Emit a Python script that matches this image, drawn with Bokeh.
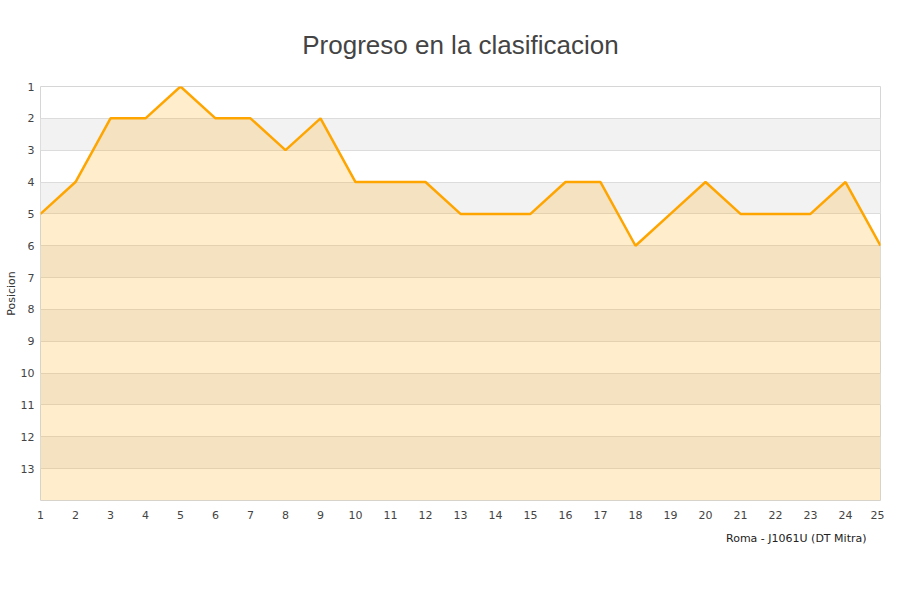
from bokeh.plotting import figure
from bokeh.models import Range1d, FixedTicker, ColumnDataSource, Title
from bokeh.embed import file_html
from bokeh.resources import INLINE

jornadas = list(range(1, 26))
posicion = [5, 4, 2, 2, 1, 2, 2, 3, 2, 4, 4, 4, 5, 5, 5, 4, 4, 6, 5, 4, 5, 5, 5, 4, 6]
y_ticks = list(range(1, 14))
x_ticks = list(range(1, 26))
fondo = 14
serie = "Roma - J1061U (DT Mitra)"
titulo = "Progreso en la clasificacion"
eje_y = "Posicion"

src = ColumnDataSource(dict(x=jornadas, y=posicion, base=[fondo] * len(jornadas)))

p = figure(width=884, height=584, output_backend="svg", toolbar_location=None,
           x_range=Range1d(1, 25), y_range=Range1d(fondo, 1),
           min_border_left=40, min_border_right=4, min_border_top=86, min_border_bottom=84)

p.title.text = titulo
p.title.align = "center"
p.title.text_font = "Liberation Sans"
p.title.text_font_size = "26px"
p.title.text_font_style = "normal"
p.title.text_color = "#444444"
p.title.standoff = 53

p.outline_line_color = "#d6d6d6"
p.background_fill_color = "white"
p.border_fill_color = "white"

p.xgrid.grid_line_color = None
p.ygrid.grid_line_color = "#dcdcdc"
p.ygrid.band_fill_color = "#f2f2f2"
p.ygrid.band_fill_alpha = 1.0

for ax in (p.xaxis[0], p.yaxis[0]):
    ax.axis_line_color = None
    ax.major_tick_line_color = None
    ax.minor_tick_line_color = None
    ax.major_label_text_font = "DejaVu Sans"
    ax.major_label_text_font_size = "11px"
    ax.major_label_text_color = "#444444"

p.yaxis.ticker = FixedTicker(ticks=y_ticks)
p.xaxis.ticker = FixedTicker(ticks=x_ticks)
p.yaxis.major_label_standoff = 0
p.xaxis.major_label_standoff = 4
p.yaxis.axis_label = eje_y
p.yaxis.axis_label_text_font = "DejaVu Sans"
p.yaxis.axis_label_text_font_size = "11px"
p.yaxis.axis_label_text_font_style = "normal"
p.yaxis.axis_label_text_color = "#333333"
p.yaxis.axis_label_standoff = 0

p.varea(x="x", y1="y", y2="base", source=src, fill_color="#FFA500", fill_alpha=0.2)
p.line(x="x", y="y", source=src, line_color="#FFA500", line_width=2.5)

# series key, shown as a right-aligned caption under the x axis
leyenda = Title(text=serie, align="right", offset=14, standoff=16,
                text_font="DejaVu Sans", text_font_size="11px",
                text_font_style="normal", text_color="#222222")
p.add_layout(leyenda, "below")

open("out.html", "w").write(file_html(p, INLINE))
